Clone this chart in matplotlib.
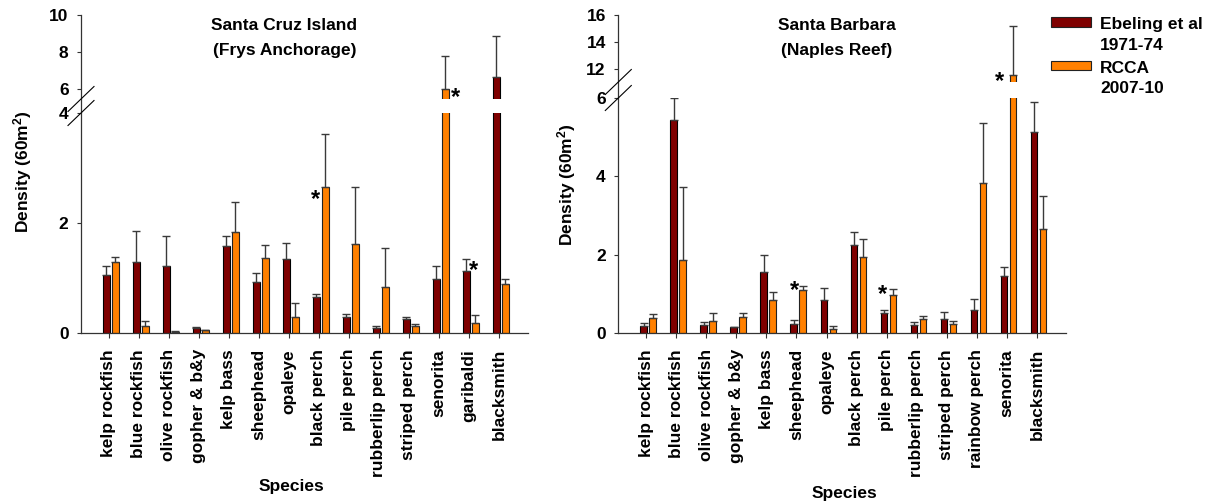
import numpy as np
import matplotlib
matplotlib.use('Agg')
import matplotlib.pyplot as plt
from matplotlib.patches import Rectangle

plt.rcParams['font.family'] = ['Liberation Sans', 'DejaVu Sans']
plt.rcParams['font.weight'] = 'bold'
plt.rcParams['mathtext.fontset'] = 'custom'
plt.rcParams['mathtext.bf'] = 'Liberation Sans:bold'
plt.rcParams['mathtext.rm'] = 'Liberation Sans:bold'
plt.rcParams['mathtext.default'] = 'bf'

# Santa Cruz Island (Frys Anchorage)
scruz_species = ['kelp rockfish', 'blue rockfish', 'olive rockfish', 'gopher & b&y',
                 'kelp bass', 'sheephead', 'opaleye', 'black perch', 'pile perch',
                 'rubberlip perch', 'striped perch', 'senorita', 'garibaldi', 'blacksmith']
scruz_ebeling = [1.06, 1.29, 1.21, 0.10, 1.59, 0.93, 1.35, 0.65, 0.30, 0.085, 0.26, 0.98, 1.13, 6.63]
scruz_ebeling_se = [0.15, 0.57, 0.56, 0.01, 0.17, 0.16, 0.29, 0.06, 0.04, 0.035, 0.04, 0.24, 0.21, 2.25]
scruz_rcca = [1.30, 0.13, 0.02, 0.05, 1.83, 1.36, 0.30, 2.66, 1.61, 0.83, 0.13, 5.98, 0.19, 0.885]
scruz_rcca_se = [0.08, 0.08, 0.02, 0.005, 0.56, 0.24, 0.25, 0.95, 1.05, 0.72, 0.03, 1.82, 0.14, 0.105]
scruz_yticks = [0, 2, 4, 6, 8, 10]
scruz_title = ['Santa Cruz Island', '(Frys Anchorage)']

# Santa Barbara (Naples Reef)
sbarb_species = ['kelp rockfish', 'blue rockfish', 'olive rockfish', 'gopher & b&y',
                 'kelp bass', 'sheephead', 'opaleye', 'black perch', 'pile perch',
                 'rubberlip perch', 'striped perch', 'rainbow perch', 'senorita', 'blacksmith']
sbarb_ebeling = [0.17, 5.45, 0.20, 0.15, 1.57, 0.22, 0.84, 2.25, 0.50, 0.20, 0.37, 0.58, 1.45, 5.14]
sbarb_ebeling_se = [0.09, 0.55, 0.07, 0.01, 0.42, 0.11, 0.30, 0.32, 0.08, 0.07, 0.17, 0.28, 0.24, 0.76]
sbarb_rcca = [0.38, 1.86, 0.30, 0.41, 0.83, 1.09, 0.10, 1.95, 0.97, 0.36, 0.23, 3.82, 11.56, 2.66]
sbarb_rcca_se = [0.10, 1.86, 0.20, 0.11, 0.22, 0.10, 0.08, 0.44, 0.16, 0.08, 0.08, 1.55, 3.64, 0.83]
sbarb_yticks = [0, 2, 4, 6, 12, 14, 16]
sbarb_title = ['Santa Barbara', '(Naples Reef)']

legend_labels = [['Ebeling et al', '1971-74'], ['RCCA', '2007-10']]

EB_COLOR = '#7f0000'
RC_COLOR = '#ff8000'
ERR_COLOR = '#3a3a3a'

FIG_W, FIG_H = 1210, 504


def _broken_scale(data_pts, px_pts):
    """ piecewise linear y scale, gap between lower and upper segment """
    d = np.asarray(data_pts, float)
    p = np.asarray(px_pts, float)
    lo = (p[1] - p[0]) / (d[1] - d[0])
    hi = (p[-1] - p[-2]) / (d[-1] - d[-2])
    d_ext = np.concatenate([[d[0] - 1000], d, [d[-1] + 1000]])
    p_ext = np.concatenate([[p[0] - 1000 * lo], p, [p[-1] + 1000 * hi]])
    return (lambda v: np.interp(v, d_ext, p_ext),
            lambda v: np.interp(v, p_ext, d_ext))


def plot_panel(ax, species, eb, eb_se, rc, rc_se, axis_pts, axis_px,
               yticks, title, stars):
    x = np.arange(len(species))
    fwd, inv = _broken_scale(axis_pts, axis_px)
    ax.set_yscale('function', functions=(fwd, inv))
    ax.set_ylim(axis_pts[0], axis_pts[-1])
    ax.set_xlim(-0.93, 13.97)

    bar_x = {'eb': x - 0.09, 'rc': x + 0.21}
    vals = {'eb': np.asarray(eb), 'rc': np.asarray(rc)}
    ax.bar(bar_x['eb'], eb, width=0.22, color=EB_COLOR, edgecolor='black',
           linewidth=0.8, zorder=2)
    ax.bar(bar_x['rc'], rc, width=0.22, color=RC_COLOR, edgecolor='#222222',
           linewidth=0.8, zorder=2)
    ax.errorbar(bar_x['eb'], eb, yerr=[np.zeros(len(eb)), eb_se], fmt='none',
                ecolor=ERR_COLOR, elinewidth=1, capsize=3.2, capthick=1, zorder=2.1)
    ax.errorbar(bar_x['rc'], rc, yerr=[np.zeros(len(rc)), rc_se], fmt='none',
                ecolor=ERR_COLOR, elinewidth=1, capsize=3.2, capthick=1, zorder=2.1)

    # blank out the broken section
    ax.axhspan(axis_pts[1], axis_pts[2], color='white', lw=0, zorder=2.3)

    for spine in ['top', 'right']:
        ax.spines[spine].set_visible(False)
    for spine in ['left', 'bottom']:
        ax.spines[spine].set_linewidth(0.9)
        ax.spines[spine].set_color('#333333')
        ax.spines[spine].set_zorder(3)

    ax.set_yticks(yticks)
    ax.set_yticklabels([str(t) for t in yticks])
    ax.set_xticks(x)
    ax.set_xticklabels(species, rotation=90)
    ax.tick_params(axis='y', direction='out', length=3, width=0.8,
                   pad=6, labelsize=12.5, color='#333333')
    ax.tick_params(axis='x', direction='out', length=3.5, width=0.8,
                   pad=8, labelsize=12.5, color='#333333')

    # break marks on the y axis
    pos = ax.get_position()
    w_px = pos.width * FIG_W
    h_px = pos.height * FIG_H
    dx, dy = 13 / w_px, 12.5 / h_px
    for edge in (axis_px[1], axis_px[2]):
        yf = edge / axis_px[-1]
        ax.plot([-dx, dx], [yf - dy, yf + dy], transform=ax.transAxes,
                clip_on=False, color='black', lw=0.8, zorder=4)

    # title, two lines
    cx = pos.x0 + title[2] * pos.width
    fig = ax.figure
    fig.text(cx, 1 - 30.5 / FIG_H, title[0], ha='center', va='baseline', fontsize=12.5)
    fig.text(cx, 1 - 55 / FIG_H, title[1], ha='center', va='baseline', fontsize=12.5)

    # significance markers
    for idx, series, dx_px, dy_px in stars:
        ax.annotate('*', xy=(bar_x[series][idx], vals[series][idx]),
                    xytext=(dx_px, dy_px - 13), textcoords='offset pixels',
                    ha='center', va='baseline', fontsize=17, zorder=5)


fig = plt.figure(figsize=(FIG_W / 100, FIG_H / 100), dpi=100)
ax_l = fig.add_axes([81 / FIG_W, 171 / FIG_H, 447 / FIG_W, 318 / FIG_H])
ax_r = fig.add_axes([618.3 / FIG_W, 171 / FIG_H, 447.7 / FIG_W, 318 / FIG_H])

plot_panel(ax_l, scruz_species, scruz_ebeling, scruz_ebeling_se, scruz_rcca,
           scruz_rcca_se, [0, 4, 5.46, 10], [0, 220, 234, 318], scruz_yticks,
           scruz_title + [0.455],
           [(7, 'rc', -10, -6), (11, 'rc', 10, -2), (12, 'eb', 7, 7)])
plot_panel(ax_r, sbarb_species, sbarb_ebeling, sbarb_ebeling_se, sbarb_rcca,
           sbarb_rcca_se, [0, 6, 11.04, 16], [0, 235, 251, 318], sbarb_yticks,
           sbarb_title + [0.488],
           [(5, 'rc', -8, 6), (8, 'rc', -10, 7), (12, 'rc', -14, 0)])

# axis titles
fig.text(291 / FIG_W, 1 - 491.5 / FIG_H, 'Species', ha='center', va='baseline', fontsize=12.5)
fig.text(844 / FIG_W, 1 - 498 / FIG_H, 'Species', ha='center', va='baseline', fontsize=12.5)
fig.text(23 / FIG_W, 1 - 172 / FIG_H, r'Density (60m$^2$)', rotation=90,
         ha='center', va='center', fontsize=12.5)
fig.text(567 / FIG_W, 1 - 185 / FIG_H, r'Density (60m$^2$)', rotation=90,
         ha='center', va='center', fontsize=12.5)

# legend, drawn by hand
for (lines, color, top) in zip(legend_labels, [EB_COLOR, RC_COLOR], [17.3, 60.7]):
    fig.add_artist(Rectangle((1050.7 / FIG_W, 1 - (top + 9.4) / FIG_H),
                             40 / FIG_W, 9.4 / FIG_H, facecolor=color,
                             edgecolor='#222222', lw=0.8,
                             transform=fig.transFigure))
    fig.text(1100 / FIG_W, 1 - (top + 12) / FIG_H, lines[0], va='baseline', fontsize=12.5)
    fig.text(1100 / FIG_W, 1 - (top + 32.7) / FIG_H, lines[1], va='baseline', fontsize=12.5)

fig.savefig('out.png', dpi=100)
